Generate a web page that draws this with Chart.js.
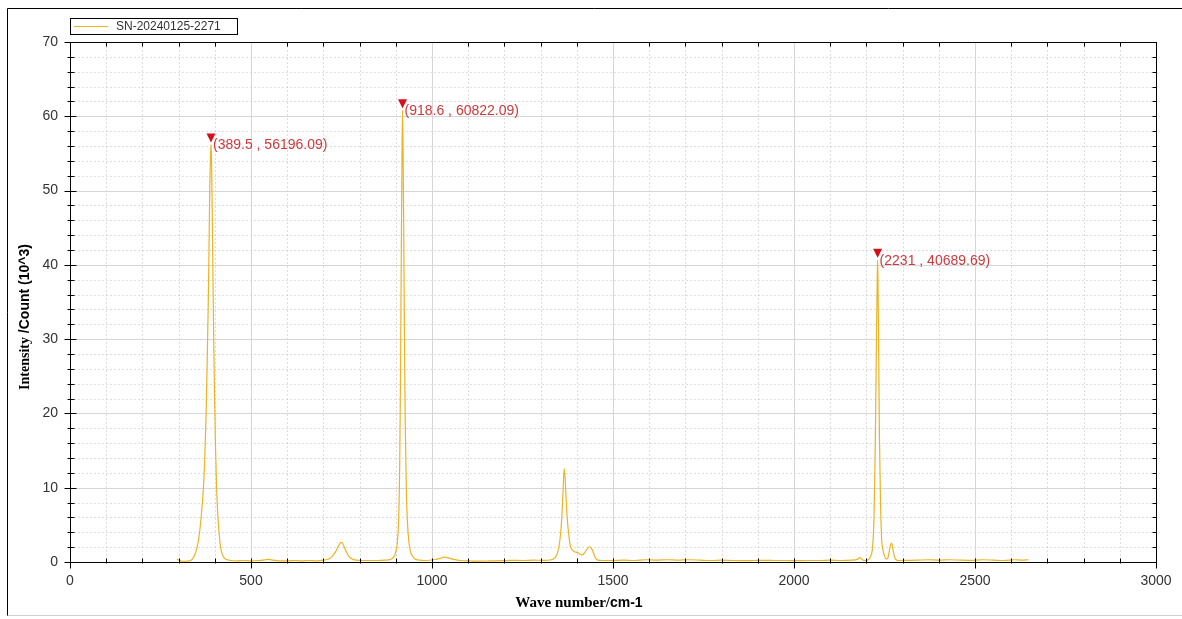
<!DOCTYPE html>
<html>
<head>
<meta charset="utf-8">
<title>SN-20240125-2271 Raman spectrum</title>
<script src="https://cdn.jsdelivr.net/npm/chart.js@4.4.1/dist/chart.umd.min.js"></script>
<style>
  html, body { margin: 0; padding: 0; background: #fff; }
  #wrap { width: 1182px; height: 619px; }
</style>
</head>
<body>
<div id="wrap"><canvas id="spec" width="1182" height="619"></canvas></div>
<script>
// spectrum (intensity in 10^3 counts)
const waveX = [
  295, 300, 305, 312, 320, 330, 338, 345, 352, 358, 364, 368, 372, 376, 379, 382, 384, 386, 388, 389.5,
  391, 393, 395, 397, 399, 402, 405, 408, 412, 416, 421, 427, 435, 445, 460, 480, 500, 520, 540, 550,
  560, 580, 600, 620, 640, 660, 680, 700, 715, 725, 735, 742, 748, 752, 757, 763, 770, 778, 790, 810,
  830, 850, 870, 885, 893, 899, 904, 908, 911, 913, 915, 917, 918.6, 920, 922, 924, 926, 929, 932, 936,
  940, 946, 953, 965, 985, 1005, 1020, 1035, 1045, 1060, 1080, 1100, 1130, 1160, 1190, 1220, 1250, 1280, 1310, 1330,
  1340, 1347, 1353, 1358, 1362, 1365, 1368, 1371, 1374, 1378, 1382, 1388, 1395, 1403, 1410, 1416, 1422, 1428, 1435, 1441,
  1447, 1452, 1458, 1470, 1500, 1530, 1560, 1590, 1620, 1650, 1680, 1710, 1740, 1770, 1800, 1830, 1860, 1890, 1920, 1950,
  1980, 2010, 2040, 2070, 2100, 2130, 2160, 2175, 2182, 2188, 2196, 2205, 2212, 2217, 2221, 2224, 2226, 2228, 2230, 2231,
  2232, 2234, 2236, 2239, 2242, 2246, 2250, 2255, 2259, 2263, 2267, 2270, 2273, 2277, 2282, 2290, 2310, 2340, 2370, 2400,
  2430, 2460, 2490, 2520, 2550, 2580, 2610, 2630, 2648
];
const intensity = [
  0.35, 0.3, 0.15, 0.1, 0.1, 0.15, 0.4, 1.0, 2.2, 4.0, 7.0, 9.5, 13.5, 20, 27, 35, 42, 50, 54.5, 56.196,
  54, 47, 38, 30, 23, 15.5, 10, 6.5, 3.8, 2.0, 1.0, 0.5, 0.3, 0.2, 0.15, 0.2, 0.15, 0.2, 0.3, 0.35,
  0.25, 0.15, 0.15, 0.2, 0.15, 0.2, 0.15, 0.25, 0.4, 0.8, 1.5, 2.2, 2.6, 2.6, 2.1, 1.4, 0.8, 0.45, 0.25, 0.2,
  0.2, 0.2, 0.25, 0.35, 0.6, 1.2, 2.5, 6, 14, 25, 40, 54, 60.822, 56, 44, 30, 19, 10, 5.5, 2.8,
  1.5, 0.8, 0.4, 0.25, 0.2, 0.3, 0.45, 0.65, 0.55, 0.35, 0.2, 0.15, 0.12, 0.15, 0.18, 0.22, 0.2, 0.25, 0.22, 0.3,
  0.6, 1.3, 2.8, 5.5, 9.5, 12.6, 11, 8, 5.6, 3.6, 2.2, 1.6, 1.35, 1.25, 1.0, 0.95, 1.3, 1.7, 2.05, 1.8,
  1.1, 0.5, 0.25, 0.2, 0.2, 0.25, 0.2, 0.3, 0.25, 0.3, 0.25, 0.3, 0.25, 0.2, 0.25, 0.2, 0.18, 0.2, 0.22, 0.2,
  0.2, 0.18, 0.2, 0.2, 0.25, 0.2, 0.25, 0.35, 0.6, 0.35, 0.2, 0.3, 0.8, 2.0, 6, 14, 22, 31, 38.5, 40.69,
  38, 28, 17, 8, 3.2, 1.6, 0.8, 0.4, 0.5, 1.4, 2.4, 2.5, 1.8, 0.8, 0.3, 0.2, 0.22, 0.25, 0.3, 0.25,
  0.3, 0.25, 0.22, 0.3, 0.25, 0.2, 0.3, 0.25, 0.3
];

// marked peaks (raw counts)
const peakX = [389.5, 918.6, 2231];
const peakCount = [56196.09, 60822.09, 40689.69];

const seriesName = 'SN-20240125-2271';
const xTicks = [0, 500, 1000, 1500, 2000, 2500, 3000];
const yTicks = [0, 10, 20, 30, 40, 50, 60, 70];

const LINE = 'rgb(236,180,36)';
const SANS = '"Liberation Sans", Arial, sans-serif';
const SERIF = '"Liberation Serif", "Times New Roman", serif';

// grid, frame, ticks, legend, peak marks and axis titles
const decor = {
  id: 'decor',
  beforeDraw(chart) {
    const c = chart.ctx;
    c.save();
    c.fillStyle = '#fff';
    c.fillRect(0, 0, chart.width, chart.height);
    c.lineWidth = 1;
    c.strokeStyle = '#000';
    c.beginPath();
    c.moveTo(7.5, 616);
    c.lineTo(7.5, 8.5);
    c.lineTo(chart.width, 8.5);
    c.stroke();
    c.strokeStyle = '#d0d0d0';
    c.beginPath();
    c.moveTo(7.5, 615.5);
    c.lineTo(chart.width, 615.5);
    c.stroke();
    c.restore();
  },
  beforeDatasetsDraw(chart) {
    const c = chart.ctx, a = chart.chartArea;
    const xs = chart.scales.x, ys = chart.scales.y;
    const L = Math.round(a.left) + 0.5, R = Math.round(a.right) + 0.5;
    const T = Math.round(a.top) + 0.5, B = Math.round(a.bottom) + 0.5;
    c.save();
    c.lineWidth = 1;
    // minor dotted grid
    c.strokeStyle = '#bdbdbd';
    c.setLineDash([1, 3]);
    c.beginPath();
    for (let v = 100; v < 3000; v += 100) {
      if (v % 500 === 0) continue;
      const p = Math.round(xs.getPixelForValue(v)) + 0.5;
      c.moveTo(p, T); c.lineTo(p, B);
    }
    for (let v = 2; v < 70; v += 2) {
      if (v % 10 === 0) continue;
      const p = Math.round(ys.getPixelForValue(v)) + 0.5;
      c.moveTo(L, p); c.lineTo(R, p);
    }
    c.stroke();
    // major grid
    c.setLineDash([]);
    c.strokeStyle = '#d6d6d6';
    c.beginPath();
    xTicks.slice(1, -1).forEach(v => {
      const p = Math.round(xs.getPixelForValue(v)) + 0.5;
      c.moveTo(p, T); c.lineTo(p, B);
    });
    yTicks.slice(1, -1).forEach(v => {
      const p = Math.round(ys.getPixelForValue(v)) + 0.5;
      c.moveTo(L, p); c.lineTo(R, p);
    });
    c.stroke();
    c.restore();
  },
  afterDatasetsDraw(chart) {
    const c = chart.ctx, a = chart.chartArea;
    const xs = chart.scales.x, ys = chart.scales.y;
    const L = Math.round(a.left) + 0.5, R = Math.round(a.right) + 0.5;
    const T = Math.round(a.top) + 0.5, B = Math.round(a.bottom) + 0.5;
    c.save();
    c.lineWidth = 1;
    c.strokeStyle = '#000';
    c.strokeRect(L, T, R - L, B - T);
    c.beginPath();
    for (let v = 0; v <= 3000; v += 100) {
      const p = Math.round(xs.getPixelForValue(v)) + 0.5;
      const major = v % 500 === 0;
      c.moveTo(p, B - 4); c.lineTo(p, B + (major ? 6 : 1));
      c.moveTo(p, T); c.lineTo(p, T + (major ? 0 : 4));
    }
    for (let v = 0; v <= 70; v += 2) {
      const p = Math.round(ys.getPixelForValue(v)) + 0.5;
      const major = v % 10 === 0;
      c.moveTo(L - (major ? 6 : 3), p); c.lineTo(L + (major ? 6 : 4), p);
      c.moveTo(R - 4, p); c.lineTo(R, p);
    }
    c.stroke();

    // peak markers
    c.font = '14px ' + SANS;
    c.textAlign = 'left';
    c.textBaseline = 'middle';
    peakX.forEach((px, i) => {
      const x = xs.getPixelForValue(px);
      const y = ys.getPixelForValue(peakCount[i] / 1000);
      c.fillStyle = '#d4101c';
      c.beginPath();
      c.moveTo(x - 4.5, y - 11);
      c.lineTo(x + 4.5, y - 11);
      c.lineTo(x, y - 2);
      c.closePath();
      c.fill();
      c.fillStyle = '#cc3a3e';
      c.fillText('(' + px + ' , ' + peakCount[i].toFixed(2) + ')', x + 2, y + 1);
    });
    c.restore();
  },
  afterDraw(chart) {
    const c = chart.ctx;
    c.save();
    // legend box
    c.lineWidth = 1;
    c.strokeStyle = '#000';
    c.strokeRect(70.5, 18.5, 167, 16);
    c.strokeStyle = LINE;
    c.beginPath();
    c.moveTo(74, 26.5); c.lineTo(108, 26.5);
    c.stroke();
    c.fillStyle = '#333';
    c.font = '12px ' + SANS;
    c.textBaseline = 'middle';
    c.textAlign = 'left';
    c.fillText(seriesName, 116, 27);

    // x title
    c.fillStyle = '#000';
    const f1 = 'bold 15px ' + SERIF, f2 = 'bold 14px ' + SANS;
    c.font = f1; const w1 = c.measureText('Wave number/').width;
    c.font = f2; const w2 = c.measureText('cm-1').width;
    let x0 = 579 - (w1 + w2) / 2;
    c.textBaseline = 'middle';
    c.font = f1; c.fillText('Wave number/', x0, 603);
    c.font = f2; c.fillText('cm-1', x0 + w1, 603);

    // y title
    c.translate(25, 317);
    c.rotate(-Math.PI / 2);
    const g1 = 'bold 14px ' + SERIF, g2 = 'bold 14px ' + SANS;
    c.font = g1; const v1 = c.measureText('Intensity').width;
    c.font = g2; const v2 = c.measureText(' /Count (10^3)').width;
    x0 = -(v1 + v2) / 2;
    c.font = g1; c.fillText('Intensity', x0, 0);
    c.font = g2; c.fillText(' /Count (10^3)', x0 + v1, 0);
    c.restore();
  }
};

const points = waveX.map((x, i) => ({ x: x, y: intensity[i] }));

new Chart(document.getElementById('spec'), {
  type: 'line',
  data: {
    datasets: [{
      label: seriesName,
      data: points,
      borderColor: LINE,
      borderWidth: 1.2,
      pointRadius: 0,
      fill: false,
      cubicInterpolationMode: 'monotone'
    }]
  },
  options: {
    responsive: false,
    animation: false,
    devicePixelRatio: 1,
    layout: { padding: { left: 0, top: 42, right: 26, bottom: 0 } },
    plugins: { legend: { display: false }, tooltip: { enabled: false } },
    scales: {
      x: {
        type: 'linear',
        min: 0, max: 3000,
        afterFit(s) { s.height = 57; s.paddingRight = 0; },
        grid: { display: false, drawTicks: false },
        border: { display: false },
        afterBuildTicks(s) { s.ticks = xTicks.map(v => ({ value: v })); },
        ticks: { color: '#333', font: { family: SANS, size: 14 }, padding: 11, maxRotation: 0,
                 callback: v => String(v) }
      },
      y: {
        min: 0, max: 70,
        afterFit(s) { s.width = 70; },
        grid: { display: false, drawTicks: false },
        border: { display: false },
        afterBuildTicks(s) { s.ticks = yTicks.map(v => ({ value: v })); },
        ticks: { color: '#333', font: { family: SANS, size: 14 }, padding: 12,
                 callback: v => String(v) }
      }
    }
  },
  plugins: [decor]
});
</script>
</body>
</html>
